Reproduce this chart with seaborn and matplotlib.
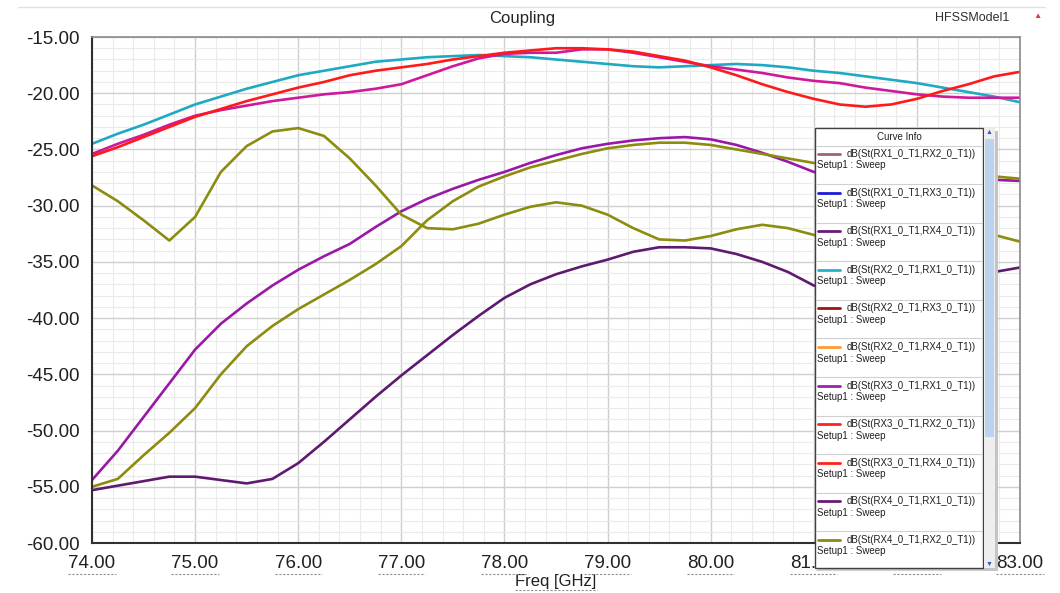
import numpy as np
import pandas as pd
import matplotlib
matplotlib.use("Agg")
import matplotlib.pyplot as plt
import seaborn as sns
from matplotlib.ticker import MultipleLocator, FormatStrFormatter
from matplotlib.lines import Line2D
from matplotlib.patches import Rectangle

# frequency grid (GHz)
freq = np.arange(74.0, 83.001, 0.25)

# curves (dB)
rx2_rx1 = [-24.5, -23.6, -22.8, -21.9, -21.0, -20.3, -19.6, -19.0, -18.4, -18.0,
           -17.6, -17.2, -17.0, -16.8, -16.7, -16.6, -16.7, -16.8, -17.0, -17.2,
           -17.4, -17.6, -17.7, -17.6, -17.5, -17.4, -17.5, -17.7, -18.0, -18.2,
           -18.5, -18.8, -19.1, -19.5, -19.9, -20.3, -20.8]
rx3_rx2 = [-25.6, -24.8, -23.9, -23.0, -22.1, -21.4, -20.7, -20.1, -19.5, -19.0,
           -18.4, -18.0, -17.7, -17.4, -17.0, -16.7, -16.4, -16.2, -16.0, -16.0,
           -16.1, -16.3, -16.7, -17.1, -17.7, -18.4, -19.2, -19.9, -20.5, -21.0,
           -21.2, -21.0, -20.5, -19.8, -19.2, -18.5, -18.1]
rx1_rx2 = [-25.4, -24.5, -23.7, -22.8, -22.0, -21.5, -21.1, -20.7, -20.4, -20.1,
           -19.9, -19.6, -19.2, -18.4, -17.6, -16.9, -16.5, -16.4, -16.4, -16.1,
           -16.1, -16.4, -16.8, -17.2, -17.6, -17.9, -18.2, -18.6, -18.9, -19.1,
           -19.5, -19.8, -20.1, -20.3, -20.4, -20.4, -20.4]
rx3_rx1 = [-54.4, -51.8, -48.8, -45.8, -42.8, -40.5, -38.7, -37.1, -35.7, -34.5,
           -33.4, -31.9, -30.5, -29.4, -28.5, -27.7, -27.0, -26.2, -25.5, -24.9,
           -24.5, -24.2, -24.0, -23.9, -24.1, -24.6, -25.3, -26.1, -27.0, -27.5,
           -27.8, -27.9, -27.9, -27.8, -27.8, -27.7, -27.8]
rx4_rx2 = [-55.0, -54.3, -52.2, -50.2, -48.0, -45.0, -42.5, -40.7, -39.2, -37.9,
           -36.6, -35.2, -33.6, -31.3, -29.6, -28.3, -27.4, -26.6, -26.0, -25.4,
           -24.9, -24.6, -24.4, -24.4, -24.6, -25.0, -25.4, -25.8, -26.2, -26.5,
           -26.8, -27.0, -27.1, -27.2, -27.3, -27.4, -27.6]
rx4_rx3 = [-28.2, -29.6, -31.3, -33.1, -31.0, -27.0, -24.7, -23.4, -23.1, -23.8,
           -25.8, -28.2, -30.8, -32.0, -32.1, -31.6, -30.8, -30.1, -29.7, -30.0,
           -30.8, -32.0, -33.0, -33.1, -32.7, -32.1, -31.7, -32.0, -32.6, -32.9,
           -33.0, -32.9, -32.7, -32.5, -32.5, -32.6, -33.2]
rx4_rx1 = [-55.3, -54.9, -54.5, -54.1, -54.1, -54.4, -54.7, -54.3, -52.9, -51.0,
           -49.0, -47.0, -45.1, -43.3, -41.5, -39.8, -38.2, -37.0, -36.1, -35.4,
           -34.8, -34.1, -33.7, -33.7, -33.8, -34.3, -35.0, -35.9, -37.1, -37.5,
           -37.5, -37.2, -36.9, -36.6, -36.3, -35.9, -35.5]

series = {
    "RX2_RX1": rx2_rx1,
    "RX1_RX2": rx1_rx2,
    "RX3_RX2": rx3_rx2,
    "RX3_RX1": rx3_rx1,
    "RX4_RX2": rx4_rx2,
    "RX4_RX3": rx4_rx3,
    "RX4_RX1": rx4_rx1,
}
line_colors = {
    "RX2_RX1": "#1fa9c2",
    "RX1_RX2": "#d0189a",
    "RX3_RX2": "#ff1a1a",
    "RX3_RX1": "#9a18a8",
    "RX4_RX2": "#8c8c10",
    "RX4_RX3": "#8c8c10",
    "RX4_RX1": "#5e1a6e",
}

# legend entries of the "Curve Info" box
legend_labels = ["dB(St(RX1_0_T1,RX2_0_T1))", "dB(St(RX1_0_T1,RX3_0_T1))",
                 "dB(St(RX1_0_T1,RX4_0_T1))", "dB(St(RX2_0_T1,RX1_0_T1))",
                 "dB(St(RX2_0_T1,RX3_0_T1))", "dB(St(RX2_0_T1,RX4_0_T1))",
                 "dB(St(RX3_0_T1,RX1_0_T1))", "dB(St(RX3_0_T1,RX2_0_T1))",
                 "dB(St(RX3_0_T1,RX4_0_T1))", "dB(St(RX4_0_T1,RX1_0_T1))",
                 "dB(St(RX4_0_T1,RX2_0_T1))"]
legend_colors = ["#a0607a", "#1c1cd8", "#6a1a78", "#20b4c8", "#a01414", "#ff9a30",
                 "#a020b0", "#ff2020", "#ff2020", "#6a1a78", "#8a8a10"]

df = pd.DataFrame([
    {"freq": f, "dB": v, "curve": name}
    for name, vals in series.items() for f, v in zip(freq, vals)
])

sns.set_style("white")
plt.rcParams["font.family"] = ["Liberation Sans", "DejaVu Sans"]

W, H = 1060, 593
fig = plt.figure(figsize=(W / 100, H / 100), dpi=100)
ax = fig.add_axes([92 / W, 1 - 543 / H, (1020 - 92) / W, (543 - 37) / H])

sns.lineplot(data=df, x="freq", y="dB", hue="curve", palette=line_colors,
             linewidth=1.9, legend=False, ax=ax, estimator=None)

ax.set_xlim(74, 83)
ax.set_ylim(-60, -15)
ax.xaxis.set_major_locator(MultipleLocator(1))
ax.xaxis.set_minor_locator(MultipleLocator(0.2))
ax.yaxis.set_major_locator(MultipleLocator(5))
ax.yaxis.set_minor_locator(MultipleLocator(1))
ax.xaxis.set_major_formatter(FormatStrFormatter("%.2f"))
ax.yaxis.set_major_formatter(FormatStrFormatter("%.2f"))
ax.grid(which="major", color="#cfcfcf", lw=1.0)
ax.grid(which="minor", color="#ebebeb", lw=0.8)
ax.set_axisbelow(True)
ax.tick_params(which="major", direction="out", length=6, width=1.2, color="#303030",
               labelsize=13.5, labelcolor="#202020", pad=3)
ax.tick_params(which="minor", direction="out", length=3.5, width=1.0, color="#303030")
for s in ["left", "bottom"]:
    ax.spines[s].set_color("#303030")
    ax.spines[s].set_linewidth(1.5)
for s in ["top", "right"]:
    ax.spines[s].set_color("#8a8a8a")
    ax.spines[s].set_linewidth(1.2)
ax.set_xlabel("Freq [GHz]", fontsize=12, color="#202020", labelpad=1)
ax.set_ylabel("")

# header
fig.text(522 / W, 1 - 18 / H, "Coupling", ha="center", va="center", fontsize=12)
fig.text(972 / W, 1 - 18 / H, "HFSSModel1", ha="center", va="center", fontsize=9,
         color="#303030")
fig.text(1037 / W, 1 - 16 / H, "\u25b2", ha="center", va="center", fontsize=6,
         color="#d04040")
fig.add_artist(Line2D([18 / W, 1045 / W], [1 - 7 / H, 1 - 7 / H], color="#e2e2e2", lw=1))

# dashed underline under x tick labels and the axis label
fig.canvas.draw()
rend = fig.canvas.get_renderer()
xmin, xmax = ax.get_xlim()
visible = [t for t, v in zip(ax.get_xticklabels(), ax.get_xticks()) if xmin <= v <= xmax]
for t in visible + [ax.xaxis.label]:
    bb = t.get_window_extent(rend)
    fig.add_artist(Line2D([bb.x0 / W, bb.x1 / W], [(bb.y0 - 1) / H] * 2,
                          color="#909090", lw=0.8, ls=(0, (2, 1.5))))

# "Curve Info" box
lg = fig.add_axes([811 / W, 1 - 574 / H, (1002 - 811) / W, (574 - 124) / H])
lg.set_zorder(10)
lg.set_xlim(811, 1002)
lg.set_ylim(574, 124)
lg.axis("off")
lg.patch.set_alpha(0)
lg.add_patch(Rectangle((818, 131), 180, 440, color="#c4c4c4", lw=0))
lg.add_patch(Rectangle((815, 128), 168, 440, facecolor="white", edgecolor="#404040", lw=1))
lg.add_patch(Rectangle((984, 128), 11, 440, facecolor="#eeeeee", edgecolor="none"))
lg.add_patch(Rectangle((985, 139), 9, 298, facecolor="#bcd3ef", edgecolor="none"))
lg.text(989.5, 132, "\u25b2", ha="center", va="center", fontsize=5, color="#2f55d0")
lg.text(989.5, 564, "\u25bc", ha="center", va="center", fontsize=5, color="#2f55d0")
lg.text(899, 137, "Curve Info", ha="center", va="center", fontsize=7, color="#202020")
lg.plot([816, 982], [146, 146], color="#d0d0d0", lw=0.8)
step = 38.6
for i, (lab, col) in enumerate(zip(legend_labels, legend_colors)):
    y0 = 154 + step * i
    lg.plot([818, 840], [y0, y0], color=col, lw=2)
    lg.text(847, y0, lab, ha="left", va="center", fontsize=7.0, color="#202020")
    lg.text(817, y0 + 11.5, "Setup1 : Sweep", ha="left", va="center", fontsize=7.0,
            color="#202020")
    lg.plot([816, 982], [y0 + 30, y0 + 30], color="#d0d0d0", lw=0.8)

fig.savefig("out.png", dpi=100)
